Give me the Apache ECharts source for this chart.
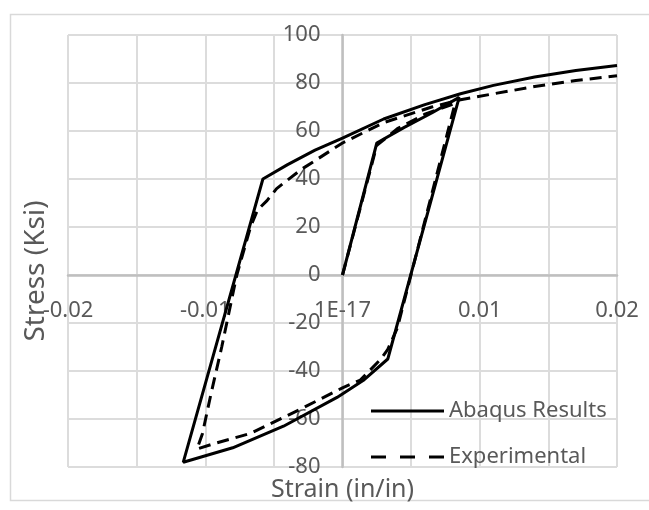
<!DOCTYPE html>
<html>
<head>
<meta charset="utf-8">
<script src="https://cdn.jsdelivr.net/npm/echarts@6/dist/echarts.min.js"></script>
<style>html,body{margin:0;padding:0;background:#fff;}#c{width:649px;height:510px;}</style>
</head>
<body>
<div id="c"></div>
<script>
// ---- data ----
var seriesNames = ['Abaqus Results', 'Experimental'];
var xTickLabels = ['-0.02', '', '-0.01', '', '1E-17', '', '0.01', '', '0.02'];
var yTickLabels = ['-80', '-60', '-40', '-20', '0', '20', '40', '60', '80', '100'];

var abaqusStrain = [0, 0.0025, 0.0045, 0.0065, 0.0085, 0.0033, 0.0015, -0.0004, -0.0043, -0.0080, -0.0116,
  -0.0058, -0.0040, -0.0020, 0.0000, 0.0030, 0.0060, 0.0086, 0.0110, 0.0140, 0.0170, 0.0200];
var abaqusStress = [0, 55, 61.5, 67.5, 74, -35, -44, -51, -63, -72, -78,
  40, 46, 52, 57, 65, 71, 75.5, 79, 82.5, 85.2, 87.3];

var expStrain = [0, 0.0025, 0.0040, 0.0060, 0.0082, 0.0040, 0.0033, 0.0028, 0.0013, 0.0000, -0.0031, -0.0067, -0.0095, -0.0106,
  -0.0102, -0.0096, -0.0088, -0.0077, -0.0067, -0.0062, -0.0055, -0.0048, -0.0030, 0.0000, 0.0030, 0.0065, 0.0086, 0.0110, 0.0140, 0.0170, 0.0200];
var expStress = [0, 54, 61, 67, 71.5, -22, -31, -35, -43.8, -47, -56, -66, -70.5, -72.5,
  -66, -50, -30, 0, 20, 27, 31, 36, 44, 55, 63.5, 70, 73, 75.5, 78.5, 81, 83];

function zip(a, b) { var r = []; for (var i = 0; i < a.length; i++) r.push([a[i], b[i]]); return r; }

var FONT = '"Noto Sans", "DejaVu Sans", sans-serif';
var TXT = '#595959';
var GRID = {left: 68, right: 32, top: 35, bottom: 43};
var W = 649, H = 510;

var chart = echarts.init(document.getElementById('c'), null, {renderer: 'canvas'});
chart.setOption({
  animation: false,
  backgroundColor: '#fff',
  graphic: [{
    type: 'rect', left: 8, top: 12, z: -10, silent: true,
    shape: {width: 660, height: 486},
    style: {fill: 'none', stroke: '#d9d9d9', lineWidth: 1.5}
  }],
  grid: {left: GRID.left, right: GRID.right, top: GRID.top, bottom: GRID.bottom, containLabel: false, outerBoundsMode: 'none'},
  legend: {
    orient: 'vertical', left: 366, top: 395, itemGap: 24,
    itemWidth: 73, itemHeight: 3,
    itemStyle: {borderWidth: 0},
    textStyle: {fontFamily: FONT, fontSize: 22, color: TXT},
    data: [
      {name: seriesNames[0], icon: 'path://M0,0H73V3H0Z'},
      {name: seriesNames[1], icon: 'path://M0,0H15V3H0ZM29,0H44V3H29ZM58,0H73V3H58Z'}
    ]
  },
  xAxis: {
    type: 'value', min: -0.02, max: 0.02, interval: 0.005,
    axisLine: {onZero: false, lineStyle: {color: '#bfbfbf', width: 2.5}},
    axisTick: {show: false},
    splitLine: {show: true, lineStyle: {color: '#dcdcdc', width: 2}},
    axisLabel: {
      fontFamily: FONT, fontSize: 22, color: TXT, margin: 25,
      showMinLabel: true, showMaxLabel: true, hideOverlap: false,
      formatter: function (v, i) { return xTickLabels[i]; }
    },
    name: 'Strain (in/in)', nameLocation: 'middle', nameGap: 202, nameMoveOverlap: false,
    nameTextStyle: {fontFamily: FONT, fontSize: 25, color: TXT}
  },
  yAxis: {
    type: 'value', min: -80, max: 100, interval: 20,
    axisLine: {show: true, onZero: false, lineStyle: {color: '#bfbfbf', width: 2.5}},
    axisTick: {show: false},
    splitLine: {show: true, lineStyle: {color: '#dcdcdc', width: 2}},
    axisLabel: {
      fontFamily: FONT, fontSize: 22, color: TXT, margin: 22,
      showMinLabel: true, showMaxLabel: true, hideOverlap: false,
      formatter: function (v, i) { return yTickLabels[i]; }
    },
    name: 'Stress (Ksi)', nameLocation: 'middle', nameGap: 292, nameMoveOverlap: false,
    nameTextStyle: {fontFamily: FONT, fontSize: 28, color: TXT, padding: [0, 40, 0, 0]}
  },
  series: [
    {
      name: seriesNames[0], type: 'line', data: zip(abaqusStrain, abaqusStress),
      showSymbol: false, symbol: 'none', color: '#000',
      lineStyle: {color: '#000', width: 3, type: 'solid'}, z: 3
    },
    {
      name: seriesNames[1], type: 'line', data: zip(expStrain, expStress),
      showSymbol: false, symbol: 'none', color: '#000',
      lineStyle: {color: '#000', width: 3, type: [12, 7]}, z: 4
    }
  ]
});
// move each axis (line, labels, name) onto the other axis' zero, as in the original
var zero = chart.convertToPixel({gridIndex: 0}, [0, 0]);
chart.setOption({
  xAxis: {offset: -((H - GRID.bottom) - zero[1])},
  yAxis: {offset: -(zero[0] - GRID.left)}
});
</script>
</body>
</html>
